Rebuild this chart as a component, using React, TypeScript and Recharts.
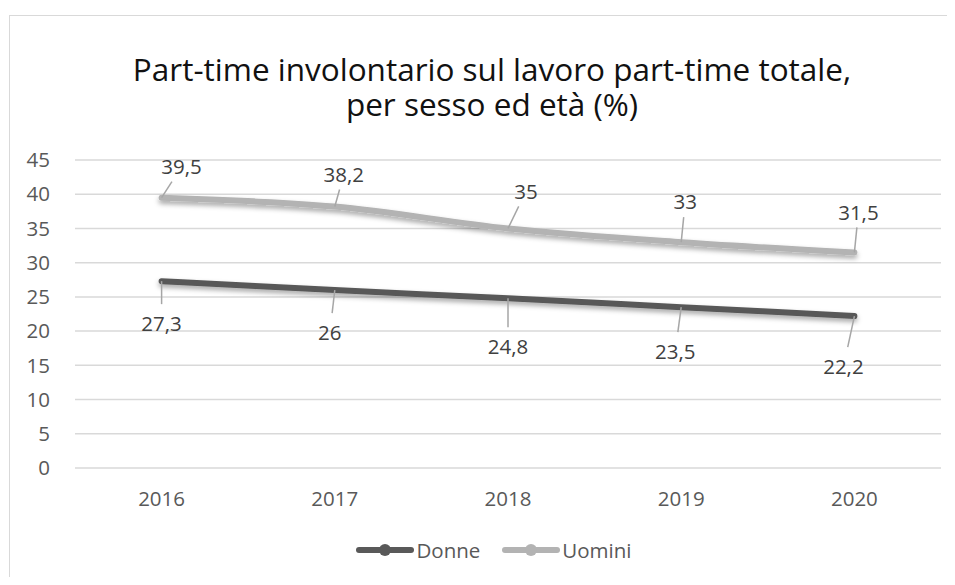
import { CartesianGrid, LabelList, Legend, Line, LineChart, XAxis, YAxis } from "recharts";

const YEARS = ["2016", "2017", "2018", "2019", "2020"];
const DONNE = [27.3, 26, 24.8, 23.5, 22.2];
const UOMINI = [39.5, 38.2, 35, 33, 31.5];
const Y_TICKS = [0, 5, 10, 15, 20, 25, 30, 35, 40, 45];

const TITLE_LINES = [
  "Part-time involontario sul lavoro part-time totale,",
  "per sesso ed età (%)",
];

// where each data label sits relative to its point (dx, dy)
const UOMINI_LABEL_OFFSET: [number, number][] = [[20, -31], [9, -32], [18, -37], [4, -40], [4, -40]];
const DONNE_LABEL_OFFSET: [number, number][] = [[0, 43], [-5, 43], [0, 49], [-6, 45], [-11, 51]];

const DONNE_COLOR = "#595959";
const UOMINI_COLOR = "#b3b3b3";
const FONT = "'Open Sans', Lato, sans-serif";

const data = YEARS.map((year, i) => ({ year, donne: DONNE[i], uomini: UOMINI[i] }));

const fmt = (v: number) => String(v).replace(".", ",");

function leaderLabel(offsets: [number, number][]) {
  return (props: any) => {
    const { x, y, value, index } = props;
    const [dx, dy] = offsets[index];
    const lx = x + dx;
    const ly = y + dy;
    // leader runs from the point to the near edge of the label
    const edge = dy < 0 ? ly + 15 : ly - 20;
    const t = (edge - y) / dy;
    return (
      <g>
        <line x1={x} y1={y} x2={x + dx * t} y2={edge} stroke="#a6a6a6" strokeWidth={1.5} />
        <text x={lx} y={ly} dy="0.35em" textAnchor="middle" fontSize={20.5} fill="#404040" fontFamily={FONT}>
          {fmt(value)}
        </text>
      </g>
    );
  };
}

function LegendContent() {
  const items = [
    { name: "Donne", color: DONNE_COLOR },
    { name: "Uomini", color: UOMINI_COLOR },
  ];
  return (
    <div style={{ display: "flex", justifyContent: "center", gap: 22, fontFamily: FONT, fontSize: 20.5, color: "#595959" }}>
      {items.map((it) => (
        <div key={it.name} style={{ display: "flex", alignItems: "center" }}>
          <svg width={58} height={16}>
            <line x1={3} y1={8} x2={55} y2={8} stroke={it.color} strokeWidth={6} strokeLinecap="round" />
            <circle cx={29} cy={8} r={6} fill={it.color} />
          </svg>
          <span style={{ marginLeft: 2 }}>{it.name}</span>
        </div>
      ))}
    </div>
  );
}

export default function App() {
  return (
    <div style={{ position: "relative", width: 955, height: 585, margin: -8, overflow: "hidden", background: "#fff" }}>
      <div
        style={{
          position: "absolute",
          left: 9,
          top: 15,
          width: 980,
          height: 620,
          border: "1.5px solid #d9d9d9",
          boxSizing: "border-box",
        }}
      />
      <div
        style={{
          position: "absolute",
          left: 0,
          top: 51,
          width: 984,
          textAlign: "center",
          fontFamily: FONT,
          fontSize: 31.5,
          lineHeight: "35px",
          color: "#111",
        }}
      >
        {TITLE_LINES.map((l) => (
          <div key={l}>{l}</div>
        ))}
      </div>
      <div style={{ position: "absolute", left: 0, top: 0 }}>
        <LineChart width={955} height={585} data={data} margin={{ top: 160, right: 14, bottom: 77, left: 15 }}>
          <defs>
            <filter id="lineShadow" x="-10%" y="-50%" width="120%" height="200%">
              <feDropShadow dx={0} dy={3} stdDeviation={2.5} floodColor="#000" floodOpacity={0.35} />
            </filter>
          </defs>
          <CartesianGrid vertical={false} stroke="#d9d9d9" strokeWidth={1.5} />
          <XAxis
            dataKey="year"
            padding={{ left: 86.6, right: 86.6 }}
            axisLine={false}
            tickLine={false}
            tickMargin={17}
            height={40}
            tick={{ fontSize: 20.5, fill: "#595959", fontFamily: FONT }}
          />
          <YAxis
            domain={[0, 45]}
            ticks={Y_TICKS}
            interval={0}
            width={60}
            axisLine={false}
            tickLine={false}
            tickMargin={19}
            tick={{ fontSize: 20.5, fill: "#595959", fontFamily: FONT }}
          />
          <Legend
            layout="horizontal"
            verticalAlign="middle"
            align="center"
            content={<LegendContent />}
            wrapperStyle={{ top: 536, left: 0, width: 988 }}
          />
          <Line
            type="monotone"
            dataKey="donne"
            name="Donne"
            stroke={DONNE_COLOR}
            strokeWidth={6}
            strokeLinecap="round"
            filter="url(#lineShadow)"
            dot={false}
            activeDot={false}
            isAnimationActive={false}
          >
            <LabelList dataKey="donne" content={leaderLabel(DONNE_LABEL_OFFSET)} />
          </Line>
          <Line
            type="monotone"
            dataKey="uomini"
            name="Uomini"
            stroke={UOMINI_COLOR}
            strokeWidth={6}
            strokeLinecap="round"
            filter="url(#lineShadow)"
            dot={false}
            activeDot={false}
            isAnimationActive={false}
          >
            <LabelList dataKey="uomini" content={leaderLabel(UOMINI_LABEL_OFFSET)} />
          </Line>
        </LineChart>
      </div>
    </div>
  );
}
